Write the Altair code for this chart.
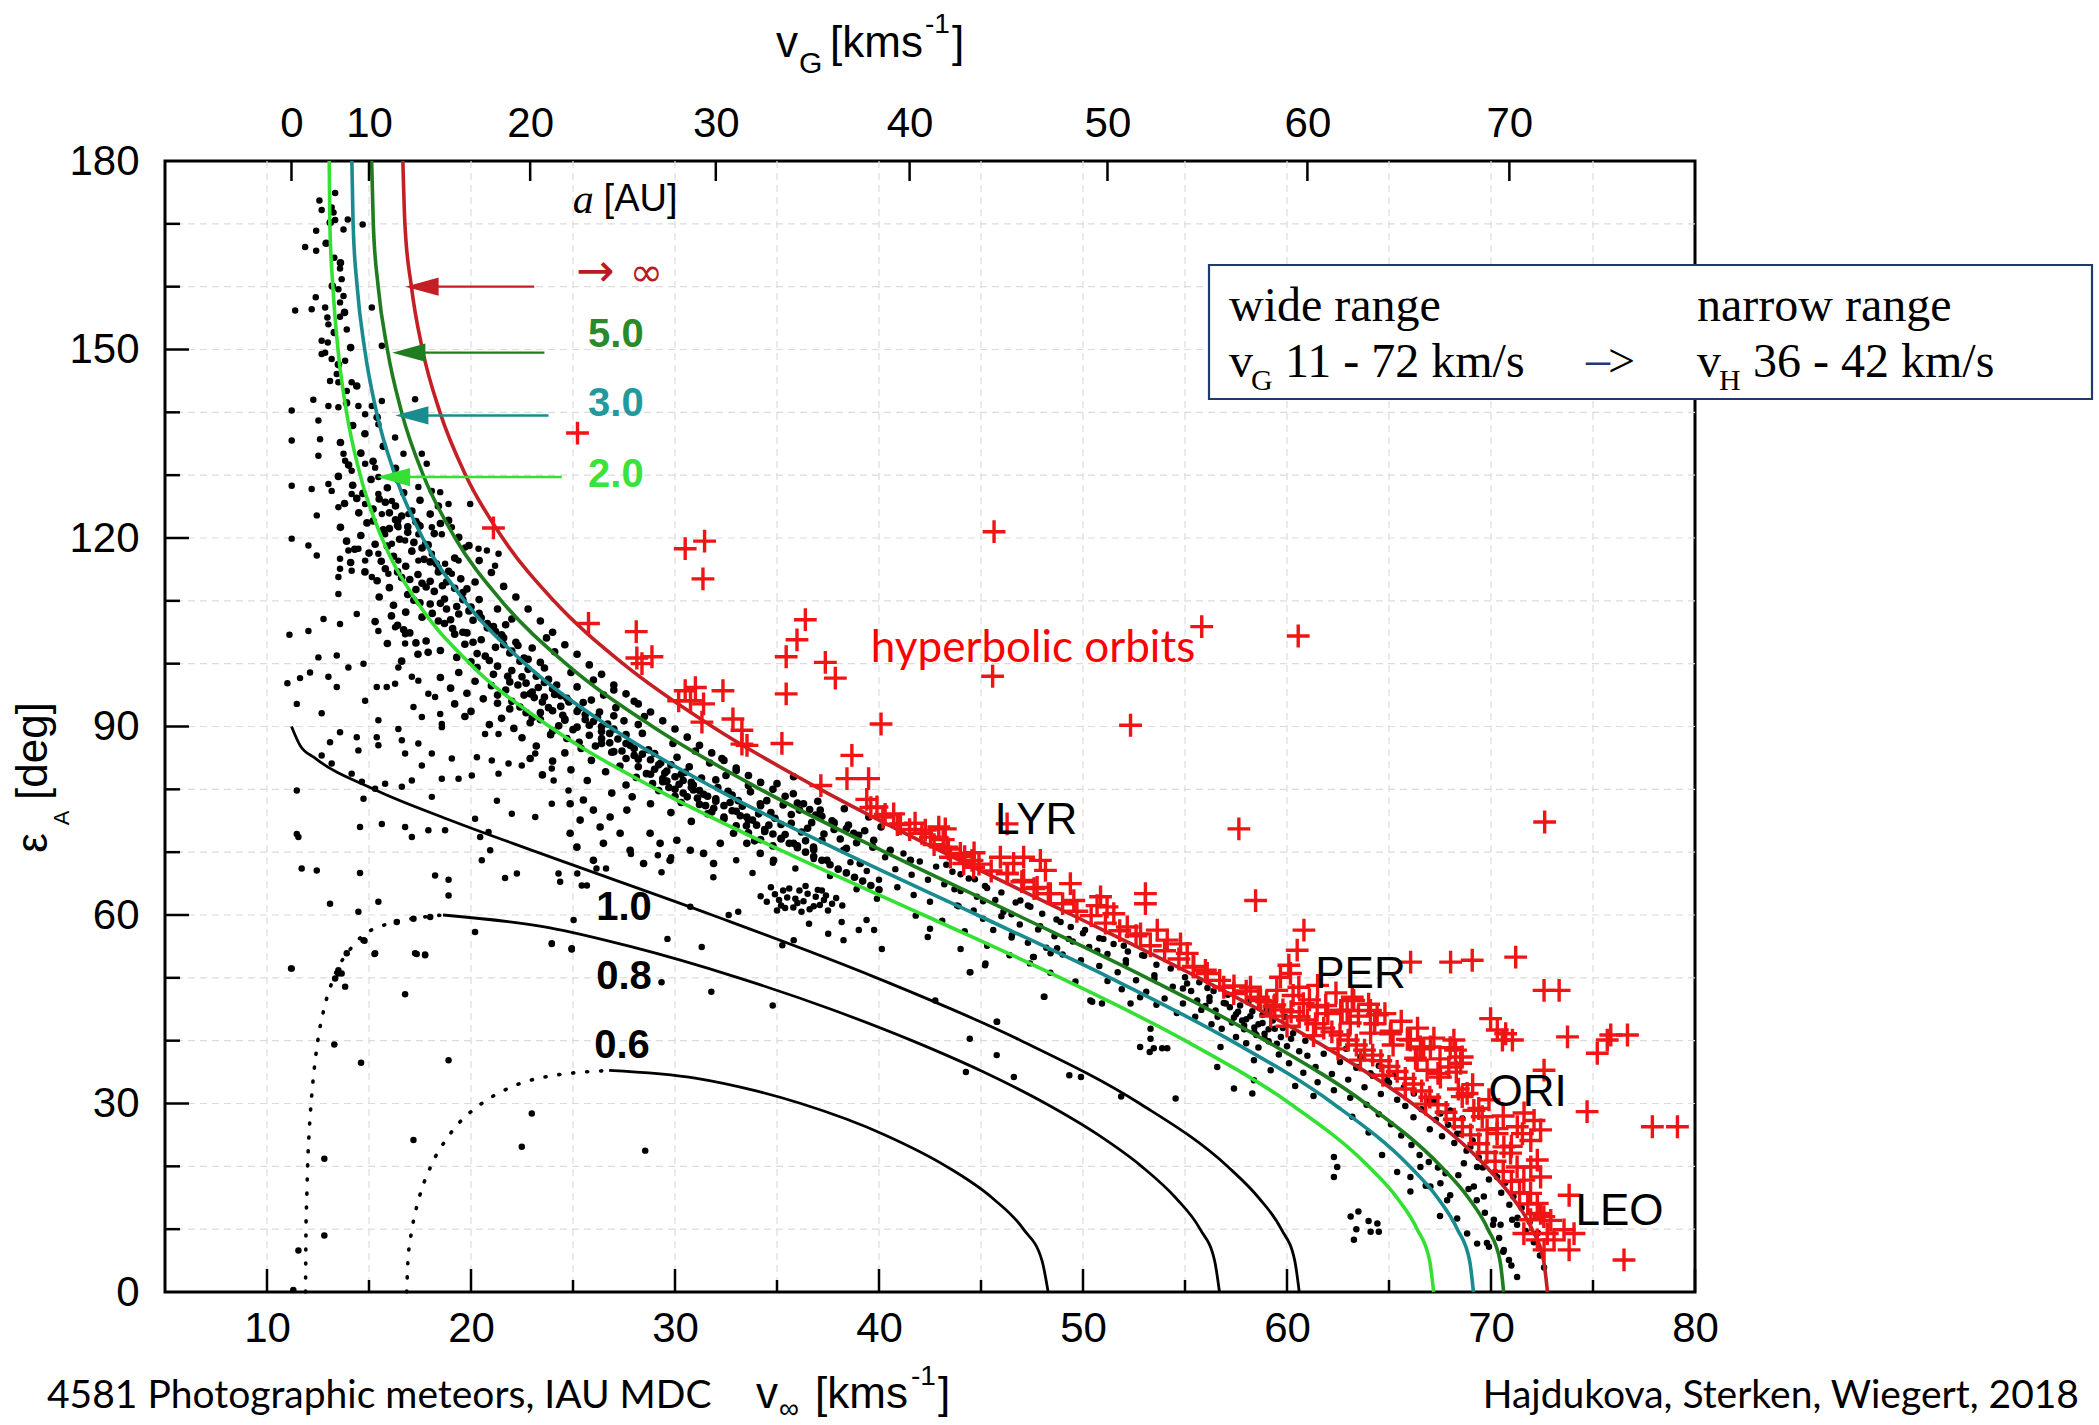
import altair as alt
import pandas as pd

W, H = 1530, 1131
XS = alt.Scale(domain=[5, 80], nice=False, zero=False)
YS = alt.Scale(domain=[0, 180], nice=False, zero=False)

# ---------------- axes ----------------
x_major = [10, 20, 30, 40, 50, 60, 70, 80]
x_minor = [15, 25, 35, 45, 55, 65, 75]
y_labels = [0, 30, 60, 90, 120, 150, 180]
y_major = [30, 60, 90, 120, 150]
y_minor = [10, 20, 40, 50, 70, 80, 100, 110, 130, 140, 160, 170]
grid_x = [10, 15, 20, 25, 30, 35, 40, 45, 50, 55, 60, 65, 70, 75]
grid_y = [10, 20, 30, 40, 50, 60, 70, 80, 90, 100, 110, 120, 130, 140, 150, 160, 170]
vg_labels = ['0', '10', '20', '30', '40', '50', '60', '70']
vg_at_vinf = [11.2, 15.0, 22.9, 32.0, 41.5, 51.2, 61.0, 70.9]

# ---------------- curves of constant a (v_inf vs eps) ----------------
eps_hi = [180, 170, 160, 150, 140, 130, 120, 110, 100, 90, 80, 70, 60, 50, 40, 30, 20, 15, 10, 5, 0]
v_a_inf = [16.66, 16.76, 17.08, 17.62, 18.48, 19.74, 21.55, 24.06, 27.45, 31.82, 37.13, 43.13, 49.47,
           55.68, 61.35, 66.14, 69.75, 71.06, 72.01, 72.58, 72.77]
v_a5 = [15.13, 15.21, 15.45, 15.90, 16.60, 17.66, 19.22, 21.49, 24.65, 28.90, 34.19, 40.29, 46.76,
        53.13, 58.95, 63.86, 67.54, 68.89, 69.85, 70.44, 70.62]
v_a3 = [14.16, 14.22, 14.42, 14.79, 15.37, 16.28, 17.63, 19.68, 22.65, 26.77, 32.05, 38.22, 44.82,
        51.33, 57.26, 62.26, 66.01, 67.38, 68.35, 68.95, 69.14]
v_a2 = [13.05, 13.08, 13.23, 13.48, 13.90, 14.57, 15.63, 17.32, 19.95, 23.85, 29.09, 35.39, 42.19,
        48.90, 55.01, 60.14, 63.99, 65.39, 66.38, 66.99, 67.19]
eps_a1 = [90, 87, 85, 80, 75, 70, 60, 50, 40, 30, 20, 15, 10, 5, 0]
v_a1 = [11.2, 11.62, 12.34, 15.24, 19.05, 23.24, 31.82, 39.88, 46.97, 52.78, 57.08, 58.61, 59.72, 60.38, 60.60]
eps_a08 = [60, 58, 55, 50, 45, 40, 35, 30, 25, 20, 15, 10, 5, 0]
v_a08_solid = [18.63, 23.81, 27.80, 33.12, 37.65, 41.62, 45.13, 48.17, 50.75, 52.87, 54.54, 55.74, 56.45, 56.69]
v_a08_dot = [18.63, 15.39, 14.19, 13.27, 12.79, 12.49, 12.30, 12.16, 12.06, 11.99, 11.95, 11.91, 11.90, 11.89]
eps_a06 = [35.26, 34, 32, 30, 25, 20, 15, 10, 5, 0]
v_a06_solid = [26.77, 31.06, 33.98, 36.17, 40.29, 43.30, 45.54, 47.08, 47.99, 48.29]
v_a06_dot = [26.77, 23.28, 21.56, 20.52, 18.94, 18.03, 17.46, 17.11, 16.91, 16.85]

# ---------------- meteors (v_inf, eps) ----------------
dots_upper = [(12.57,173.7),(13.34,174.9),(12.68,172.2),(13.17,172.6),(13.26,171.8),(13.96,170.7),(13.34,170.6),
 (14.69,169.9),(12.41,168.9),(13.75,169.1),(11.87,166.3),(12.41,165.7),(13.30,164.6),(13.58,162.9),(13.66,161.2),
 (13.50,159.6),(13.75,158.5),(13.58,157.5),(11.38,156.2),(12.19,156.4),(12.39,158.3),(12.85,156.7),(12.96,155.1),
 (13.01,154.0),(13.58,155.2),(13.91,153.2),(15.14,156.7),(12.68,151.4),(12.98,151.1),(12.68,149.3),(12.85,149.5),
 (13.17,148.5),(13.83,148.2),(13.42,146.1),(13.09,145.0),(13.50,144.8),(14.15,144.8),(13.91,143.4),(15.63,150.6),
 (17.26,142.1),(12.27,142.0),(11.21,140.3),(13.01,141.0),(13.50,140.8),(14.48,141.0),(14.81,139.7),(15.14,141.0),
 (15.63,141.8),(15.46,138.1),(16.28,136.0),(16.69,133.4),(17.59,133.4),(17.83,131.8),(11.21,135.5),(12.52,138.7),
 (12.60,135.7),(12.52,133.1),(13.75,133.4),(13.83,132.3),(14.15,130.7),(14.81,131.8),(15.30,131.2),(15.46,129.7),
 (16.44,129.1),(17.42,128.1),(18.08,127.5),(18.49,127.3),(18.90,125.4),(19.96,125.4),(11.21,128.3),(12.19,127.8),
 (12.44,123.6),(13.01,128.6),(13.17,127.5),(13.50,124.9),(14.15,127.0),(14.81,125.4),(15.46,127.0),(15.63,123.8),
 (16.12,125.9),(16.44,122.8),(16.93,123.8),(17.42,122.2),(18.08,121.7),(18.57,120.6),(19.06,121.7),(19.71,118.5),
 (20.37,118.3),(20.78,118.0),(21.35,117.5),(21.18,115.6),(11.21,119.9),(12.03,118.8),(12.44,117.2),(13.58,116.7),
 (13.99,118.0),(14.48,118.3),(14.81,116.4),(15.46,117.5),(15.79,120.6),(16.12,119.1),(16.44,121.7),(16.77,119.6),
 (17.10,118.0),(17.42,116.4),(17.75,119.1),(18.08,117.5),(18.41,115.3),(18.73,115.9),(19.06,114.3),(19.39,116.4),
 (17.42,120.6),(16.44,116.4),(15.95,114.3),(15.14,113.8),(14.15,114.8),(13.50,113.8)]

dots_left = [(13.58,115.1),(13.50,111.1),(12.77,107.1),(14.40,107.9),(13.58,106.3),(12.03,105.2),(12.52,101.0),
 (13.42,101.3),(11.62,97.7),(12.11,98.6),(13.01,97.9),(13.42,96.3),(11.46,93.6),(12.68,92.1),(13.99,99.4),(14.73,100.0),
 (14.81,94.1),(15.38,96.3),(15.46,91.0),(15.87,96.3),(16.28,96.8),(16.44,99.4),(17.10,97.9),(17.42,97.3),(17.91,95.2),
 (18.24,94.7),(17.18,93.1),(17.59,91.5),(18.49,92.0),(18.57,90.4),(16.77,103.2),(15.46,105.2),(16.28,105.8),(16.77,104.7),
 (13.58,89.1),(13.09,87.5),(14.40,88.3),(14.48,86.2),(15.38,88.3),(15.46,87.0),(16.44,89.6),(16.61,87.8),(16.77,85.7),
 (17.42,87.3),(17.59,83.8),(18.08,85.7),(18.57,89.9),(12.68,85.4),(13.17,84.1),(14.15,82.5),(14.65,81.2),(15.30,80.1),
 (15.79,80.9),(16.61,80.4),(17.10,81.4),(18.08,78.8),(18.57,81.7),(19.06,84.9),(19.39,81.7),(20.04,82.2),(20.29,85.1),
 (20.69,88.8),(21.35,88.8),(21.02,84.6),(21.35,82.5),(21.84,84.1),(22.49,83.8),(23.15,85.7),(23.96,83.3),(24.05,81.4),
 (24.78,79.8),(23.96,77.7),(23.15,75.6),(22.00,76.1),(21.27,78.2),(20.20,75.3),(20.86,73.2),(20.45,72.4),(20.53,68.7),
 (20.94,70.3),(11.46,79.8),(14.73,78.5),(14.56,74.0),(15.63,74.5),(16.77,74.0),(17.10,72.4),(17.91,73.5),(18.73,73.5),
 (11.46,72.9),(11.54,72.4),(11.70,67.4),(12.44,67.1),(14.56,66.7),(18.24,66.3),(18.90,65.6),(18.90,63.1),(21.67,65.9),
 (22.25,66.6),(24.29,66.6),(24.37,65.3),(25.43,64.7),(13.09,61.8),(15.46,62.1),(14.48,60.5),(14.73,56.0),(15.30,53.9),
 (17.26,53.9),(17.75,53.6),(20.20,57.3),(23.96,55.5),(24.94,54.7),(11.21,51.5),(13.91,53.9),(13.50,51.2),(16.36,58.9),
 (17.18,59.4),(18.00,59.7),(11.0,96.9),(11.1,104.6)]

dots_low = [(11.18,51.5),(13.50,50.7),(13.66,50.7),(13.34,49.9),(13.83,48.6),(14.78,55.9),(15.27,53.8),(17.34,53.8),
 (17.75,53.7),(16.77,47.4),(13.30,39.4),(14.61,36.5),(18.90,36.9),(17.18,24.2),(12.81,21.2),(22.98,28.4),(22.49,23.1),
 (28.54,22.5),(12.81,9.0),(11.54,6.6),(11.29,0.3),(23.96,55.4),(24.94,54.5)]

dots_mid = [(25.03,59.2),(25.21,66.6),(24.93,54.6),(25.68,64.7),(26.15,67.4),(27.84,69.7),(26.62,67.4),(29.16,69.5),
 (29.34,66.8),(29.81,69.2),(29.63,56.2),(29.34,49.3),(31.31,54.9),(31.78,47.8),(31.88,66.0),(32.63,60.0),(33.10,60.5),
 (33.00,68.7),(34.79,45.6),(35.26,55.2),(35.82,56.0),(36.57,58.6),(37.51,57.0),(38.26,56.0),(38.17,58.9),(39.01,57.6),
 (39.39,59.2),(39.76,57.6),(40.14,54.6),(42.39,56.5),(42.76,46.4),(44.45,50.9),(45.20,52.0),(44.45,40.3),(45.77,43.0),
 (45.77,37.7),(44.26,35.0),(46.61,34.2),(49.33,34.5),(49.90,34.2),(51.87,31.1),(48.11,47.0),(47.55,53.3),(50.36,46.4),
 (50.93,45.9),(52.33,45.9),(52.80,39.0),(53.27,38.2),(30.75,61.3),(50.45,46.2),(53.31,40.3),(53.31,41.9),(53.47,38.8),
 (53.88,38.8),(54.13,38.8),(54.54,30.8),(57.40,32.4),(58.30,31.6),(58.38,33.7),(58.38,36.9),(56.58,35.8),(56.74,39.0),
 (49.63,49.4),(46.52,56.8),(48.41,53.9),(48.73,54.7),(47.42,61.3),(46.93,62.3),(44.64,60.7),(43.83,61.5),(44.48,50.9),
 (45.22,52.3),(48.08,47.0),(47.59,53.3),(45.79,43.0)]

dots_right = [(62.3,21.5),(62.46,19.9),(62.3,18.3),(64.66,21.8),(65.40,19.1),(66.05,16.0),(66.54,19.9),(66.95,20.7),
 (67.85,14.6),(68.34,11.7),(68.83,9.3),(69.32,7.7),(69.90,7.2),(70.63,6.7),(70.88,5.1),(71.28,2.4),(70.14,11.5),
 (70.47,10.7),(71.04,11.5),(71.28,10.7),(69.65,15.2),(69.16,16.8),(70.30,18.3),(66.05,18.3),(67.03,16.8),(67.52,17.3),
 (67.77,18.9),(68.67,20.5),(69.32,19.9),(68.99,23.1),(68.34,25.2),(67.52,28.4),(66.87,30.5),(66.22,31.6),(65.73,32.6),
 (64.91,33.7),(64.09,34.8),(63.44,35.8),(63.5,12.8),(64.0,11.3),(64.5,9.6),(63.4,10.0),(63.12,12.0),(64.10,9.6),
 (64.43,10.9),(63.28,8.3)]

dots_blob = [(34.5,62.1),(34.9,63.3),(35.2,61.5),(35.5,62.8),(35.8,61.2),(36.1,63.9),(36.3,62.2),(36.6,60.9),(36.9,62.9),
 (37.1,61.6),(37.4,63.1),(37.7,61.8),(35.0,60.7),(35.6,64.2),(36.4,64.6),(37.0,64.0),(34.7,64.4),(35.3,63.9),(36.0,61.9),
 (36.8,61.4),(37.3,62.4),(35.9,62.6),(35.4,61.1),(36.5,63.4),(37.9,62.7),(38.2,61.5),(34.2,63.0),(35.1,62.4),(36.2,60.5),
 (37.5,60.7)]

band_top = [(13.9,119.5),(14.3,118.2),(14.6,120.4),(15.0,117.6),(15.3,119.0),(15.6,116.3),(15.9,118.7),(16.2,117.1),
 (16.5,119.8),(16.8,115.5),(17.1,117.9),(17.4,114.2),(17.7,116.6),(18.0,113.1),(18.3,115.9),(18.6,112.4),(18.9,114.7),
 (19.2,116.8),(19.5,113.5),(19.8,111.9),(14.8,114.6),(15.4,113.2),(16.0,112.1),(16.6,113.7),(17.3,111.8),(14.1,116.1),
 (15.7,121.3),(16.9,120.9),(17.9,118.9),(20.2,113.0),(13.6,121.7),(14.9,122.4),(16.3,122.9),(15.2,124.6),(14.4,126.3),
 (15.8,125.7),(17.5,121.9),(18.2,120.7),(14.2,128.4),(14.7,127.1),(15.1,129.3),(15.5,126.2),(15.9,128.0),(16.3,125.1),
 (16.7,127.2),(17.1,124.3),(17.5,126.0),(14.5,124.0),(15.2,122.7),(16.0,121.5),(16.6,123.5),(17.3,122.6),(18.0,123.8),
 (18.5,122.3),(13.8,125.5),(13.5,129.8),(14.0,131.6),(14.6,133.5),(15.2,132.2),(15.7,134.6),(16.3,131.1),(16.8,130.1),
 (13.6,135.2),(14.2,137.9),(14.8,136.6),(15.4,139.2),(13.9,141.5),(14.4,144.2),(13.5,147.6),(14.1,150.3),(13.3,152.7),
 (13.8,155.9),(13.2,160.1),(13.6,163.8),(12.9,166.9),(13.1,170.2),(15.5,110.6),(16.2,109.3),(16.8,108.2),(17.2,110.1),
 (17.6,107.4),(18.0,109.5),(18.4,106.8),(18.8,108.7),(19.1,105.6),(19.4,107.9),(19.8,104.9),(20.1,106.9),(20.5,103.8),
 (20.8,105.7),(21.2,102.6),(21.5,104.6),(21.9,101.7),(22.2,103.4),(22.6,100.9),(23.0,102.5),(23.4,100.2),(17.0,104.9),
 (17.8,103.6),(18.5,102.1),(19.3,101.0),(20.0,100.3),(16.4,106.1),(15.9,103.2),(17.4,101.5),(20.4,110.2),(21.3,108.7),
 (22.0,107.1),(19.6,111.3),(21.7,106.2),(23.7,104.1),(24.1,101.9),(16.6,100.4),(15.3,106.7),(18.2,111.5),(15.8,115.1),
 (16.4,114.6),(17.0,113.4),(17.6,112.8),(18.7,110.3),(19.3,109.1),(19.9,108.4),(20.5,107.3),(21.1,105.9),(21.6,104.1),
 (22.3,102.9),(16.9,111.0),(17.5,109.7),(18.1,108.0),(18.7,106.4),(19.2,104.7),(19.7,103.1),(20.3,101.6),(20.9,100.5),
 (16.1,107.6),(16.7,105.4),(17.3,103.3),(17.9,101.8)]

band_core = [(16.0,124.0),(16.4,122.0),(16.9,121.8),(17.2,119.3),(17.6,118.4),(18.0,116.2),(18.4,114.6),(18.8,113.0),
 (19.2,112.0),(19.6,110.2),(20.0,109.0),(20.4,108.0),(20.8,106.4),(21.2,105.1),(21.6,103.0),(22.0,102.0),(22.4,100.4),
 (22.8,99.1),(23.2,98.0),(23.6,97.0),(24.0,96.0),(24.4,94.9),(24.8,94.0),(25.2,92.4),(25.6,91.9),(26.0,90.8),(26.4,90.0),
 (26.8,88.9),(27.2,88.0),(27.6,87.3),(28.0,86.5),(28.4,85.6),(28.8,84.7),(29.2,83.9),(29.6,82.9),(30.0,82.0),(30.4,81.4),
 (30.8,80.3),(31.2,79.8),(31.6,78.9),(32.0,78.1),(32.4,77.4),(32.8,76.6),(33.2,75.8),(33.6,75.1),(34.0,74.3),(34.4,73.6),
 (34.8,72.9),(35.2,72.2),(35.6,71.4),(36.0,70.7),(36.4,70.0),(36.8,69.3),(37.2,68.7),(37.6,68.0),(38.0,67.3),(38.4,66.7),
 (38.8,66.0),(39.2,65.4),(39.6,64.7),(40.0,64.0),(17.8,112.2),(18.5,109.6),(19.0,107.0),(19.6,105.0),(20.1,103.4),
 (20.7,101.2),(21.3,99.6),(21.8,98.0),(22.3,96.6),(22.9,95.2),(23.5,93.9),(24.0,92.5),(24.6,91.2),(25.2,89.9),(25.8,88.6),
 (26.4,87.3),(27.0,86.0),(27.6,84.9),(28.2,83.6),(28.8,82.4),(29.4,81.2),(30.0,80.0),(30.6,78.8),(31.2,77.6),(31.8,76.4),
 (32.4,75.3),(33.0,74.2),(33.6,73.1),(34.2,72.0),(34.8,71.0),(18.4,125.1),(18.9,122.8),(19.4,120.1),(19.9,118.8),
 (20.4,116.4),(21.0,114.5),(21.6,112.3),(22.2,110.6),(22.8,108.7),(23.4,106.8),(24.0,105.0),(24.6,103.0),(25.2,101.5),
 (25.8,99.8),(26.4,98.3),(27.0,96.6),(27.6,95.2),(28.2,93.6),(28.8,92.3),(29.4,90.9),(30.0,89.6),(30.6,88.3),(31.2,87.0),
 (31.8,85.8),(32.4,84.6),(33.0,83.4),(33.6,82.2),(34.2,81.1),(34.8,80.0),(35.4,78.9),(36.0,77.8),(36.6,76.8),(37.2,75.7),
 (37.8,74.7),(38.4,73.7),(39.0,72.7)]

band_mid = [(18.5,97.8),(19.0,96.1),(19.4,98.6),(19.8,95.3),(20.2,97.2),(20.6,94.4),(21.0,96.5),(21.3,93.7),(21.7,95.8),
 (22.0,98.9),(22.4,93.1),(22.7,96.9),(23.1,94.6),(23.4,92.2),(23.8,97.5),(24.1,95.1),(24.5,91.8),(24.8,93.9),(25.2,96.3),
 (25.6,91.1),(25.9,94.2),(26.3,92.3),(26.7,90.4),(27.1,93.0),(27.5,90.9),(20.0,92.4),(21.5,91.3),(22.9,90.6),(24.3,90.1),
 (19.2,93.6),(22.1,89.7),(23.6,99.3),(24.9,98.6),(26.0,97.4),(27.0,95.8),(28.0,94.0),(28.5,91.6),(21.9,92.8),(20.9,90.3),
 (19.7,91.6),(22.6,95.0),(23.3,96.2),(24.4,93.2),(25.5,93.8),(26.5,95.0),(23.0,91.4),(25.0,89.5),(21.1,98.3),(20.3,99.4),
 (22.8,100.7),(21.9,97.1),(22.5,97.9),(23.0,95.5),(23.6,94.7),(24.2,96.6),(24.7,94.5),(25.3,92.9),(25.8,90.2),(26.4,89.2),
 (27.0,91.7),(27.6,88.7),(28.2,90.3),(21.3,95.0),(22.0,94.0),(22.7,92.2),(23.4,91.1),(24.0,89.3),(24.7,88.1),(25.4,86.5),
 (26.1,86.9),(26.8,87.4),(27.4,86.1),(28.0,85.4),(28.7,86.3),(29.3,84.2),(30.1,85.1),(30.7,83.6),(24.6,91.0),(23.8,93.0),
 (26.2,91.5),(22.5,88.2),(23.2,86.9),(23.9,88.7),(24.6,85.8),(25.3,87.5),(25.9,84.6),(26.4,88.1),(26.9,85.9),(27.3,83.7),
 (27.8,87.0),(28.2,84.8),(28.6,82.5),(29.0,85.7),(29.4,81.7),(29.8,83.9),(30.2,80.8),(30.5,82.7),(30.9,79.9),(31.3,81.8),
 (31.7,84.2),(32.1,80.3),(32.5,82.2),(29.2,79.8),(29.7,80.3),(30.0,78.9),(30.4,79.4),(30.8,81.1),(31.1,78.6),(29.5,82.6),
 (28.9,80.9),(28.1,81.9),(27.6,80.7),(26.6,82.8),(25.7,81.4),(24.9,83.1),(24.0,84.5),(23.5,82.3),(22.9,84.9),(27.0,89.6),
 (28.4,88.9),(29.9,87.3),(31.0,86.1),(32.3,84.9),(33.0,83.0),(30.3,77.9),(31.5,77.4),(32.0,78.5),(29.0,83.2),(29.6,81.3),
 (30.3,82.4),(30.9,80.7),(31.4,79.2),(32.0,81.5),(32.6,79.7),(33.1,78.2),(33.6,80.6),(34.2,77.4),(34.7,76.3),(35.2,74.4),
 (35.7,76.0),(36.2,73.2),(36.7,74.7),(37.2,71.9),(37.8,73.6),(38.4,70.6),(33.0,76.5),(33.8,75.1),(34.6,74.3),(35.4,72.8),
 (36.4,71.8),(31.9,77.0),(32.7,77.9),(32.8,79.1),(33.3,77.3),(33.7,79.6),(34.1,76.1),(34.5,78.2),(34.9,75.4),(35.3,77.5),
 (35.7,74.6),(36.1,76.7),(36.5,73.8),(36.9,75.9),(37.3,72.9),(37.7,75.0),(38.1,72.1),(38.5,74.3),(38.9,71.5),(39.3,73.4),
 (39.7,70.8),(33.5,74.2),(34.4,73.3),(35.2,72.1),(36.0,71.0),(36.8,70.4),(32.4,75.6),(31.6,76.1),(30.8,74.9),(29.8,76.3),
 (28.8,77.7),(27.9,78.8),(26.9,79.4),(33.9,71.8),(35.8,79.3),(37.0,78.1),(38.3,76.9),(39.5,75.6),(40.1,74.0),
 (24.86,77.7),(25.51,78.3),(26.00,76.7),(26.82,75.6),(27.64,76.7),(25.35,75.1),(26.33,74.0),(27.31,73.0),(25.19,70.8),
 (26.49,71.4),(27.80,70.3),(28.78,73.0),(29.27,71.4),(30.09,71.9),(30.75,70.3),(31.40,69.8),(31.89,68.2),(29.76,68.7),
 (28.46,68.2),(26.00,68.7),(24.86,73.0),(32.22,71.4),(32.87,73.0),(33.52,71.4),(34.18,69.8),(34.83,68.7),(35.81,71.4),
 (36.79,70.8),(37.45,68.7),(38.27,70.3),(39.08,68.2),(33.52,75.6),(34.18,77.7),(35.00,80.9),(35.81,82.0),(36.30,77.7),
 (37.12,76.7),(37.78,74.5),(38.76,73.0),(39.74,71.9),(40.55,70.3),(41.54,68.7)]

band_low = [(40.3,69.2),(40.8,67.3),(41.2,69.8),(41.6,66.4),(42.0,68.5),(42.4,65.6),(42.8,67.7),(43.2,64.9),(43.6,66.9),
 (44.0,63.8),(44.4,65.8),(44.8,62.9),(38.6,68.4),(39.4,67.0),(40.0,65.6),(40.9,64.4),(41.7,63.2),(42.5,62.1),(37.6,66.2),
 (38.9,64.1),(39.9,62.6),(36.8,68.9),(35.9,67.4),(34.8,68.3),(33.8,66.7),(37.2,63.9),(43.9,61.4),(45.2,64.6),(45.7,62.4),
 (46.1,60.5),(45.1,59.4),(45.6,57.6),(46.0,59.8),(46.5,56.4),(46.9,58.5),(47.3,55.6),(47.8,57.7),(48.2,54.8),(48.6,56.6),
 (49.0,53.7),(49.5,55.8),(49.9,52.8),(50.3,54.9),(50.8,51.9),(51.2,53.8),(51.7,50.9),(52.1,52.8),(44.2,57.4),(45.3,55.1),
 (46.4,53.6),(47.4,52.3),(48.4,50.8),(43.1,59.1),(42.5,57.8),(44.0,54.6),(48.9,58.9),(50.0,57.1),(51.0,56.2),(52.0,55.1),
 (53.0,53.5),(41.8,59.9),(43.3,68.0),(44.0,66.5),(44.7,65.7),(45.3,64.3),(46.0,63.6),(46.7,62.0),(47.3,61.5),(48.0,60.2),
 (48.7,59.3),(49.4,58.1),(50.1,57.6),(50.8,56.3),(51.5,55.4),(52.2,54.2),(52.9,53.6),(53.6,52.1),(54.3,51.5),(55.0,50.1),
 (55.7,49.3),(56.4,47.9),(43.7,64.1),(45.1,62.2),(46.5,60.1),(47.9,58.2),(49.3,56.2),(50.7,54.3),(52.1,52.3),(53.5,50.4),
 (54.9,48.3),(56.2,46.3),(52.6,49.6),(53.1,47.8),(53.5,49.9),(54.0,46.7),(54.4,48.6),(54.9,45.9),(55.3,47.9),(55.8,44.9),
 (56.2,46.9),(56.6,43.8),(57.0,45.9),(57.3,42.9),(57.6,44.6),(57.9,41.8),(58.2,43.9),(58.5,40.9),(58.8,42.8),(59.1,39.9),
 (59.4,41.9),(59.7,40.6),(60.0,39.1),(60.3,41.2),(60.6,38.3),(57.5,40.6),(58.0,39.6),(58.4,42.1),(58.9,41.1),(59.3,43.4),
 (57.8,43.2),(56.8,41.9),(56.3,42.6),(55.5,43.8),(54.6,44.4),(53.6,45.7),(52.8,46.9),(51.9,48.2),(51.2,49.5),(55.1,49.1),
 (56.1,48.4),(57.1,47.3),(58.1,46.1),(59.0,44.9),(59.9,43.8),(58.6,38.9),(59.6,37.8),(60.9,40.0),(56.9,46.0),(57.2,45.3),
 (57.5,44.2),(57.7,45.6),(58.0,43.4),(58.3,44.7),(58.6,42.6),(58.8,44.1),(59.1,41.8),(59.3,43.2),(57.4,43.7),(57.9,42.4),
 (58.4,41.4),(58.9,40.4),(59.5,39.5),(56.5,44.8),(56.0,45.5),(55.6,46.4),(59.8,42.0),(60.2,40.3)]

band_end = [(61.0,37.6),(61.4,35.8),(61.8,37.9),(62.2,34.7),(62.6,36.6),(63.0,33.8),(63.4,35.7),(63.8,32.6),(64.2,34.4),
 (64.6,31.5),(65.0,33.3),(65.4,30.6),(60.1,36.4),(60.8,34.9),(61.5,33.4),(62.3,32.1),(63.1,30.9),(63.9,29.8),(59.2,35.3),
 (60.4,32.8),(61.3,31.2),(62.9,38.7),(63.6,37.4),(64.5,36.0),(65.3,34.7),(65.8,29.6),(66.2,27.8),(66.6,29.1),(67.0,25.9),
 (67.3,27.4),(67.6,24.8),(67.9,26.6),(68.2,23.7),(68.5,25.2),(68.8,22.5),(69.1,24.1),(69.4,21.4),(64.5,28.3),(65.1,26.7),
 (65.6,24.9),(66.1,23.4),(66.5,21.8),(63.2,27.9),(64.0,25.4),(67.2,30.4),(68.0,28.9),(68.6,27.6),(69.6,19.8),(69.9,17.9),
 (70.2,19.1),(70.5,15.8),(70.7,17.4),(70.9,13.9),(71.1,15.2),(71.3,11.8),(71.5,13.4),(71.7,9.7),(71.9,11.2),(72.1,7.9),
 (72.3,9.4),(72.4,5.8),(68.4,18.6),(68.9,16.4),(69.3,14.6),(69.7,12.6),(70.1,10.7),(70.4,8.6),(70.6,6.4),(67.4,19.8),
 (68.0,15.4),(66.8,16.9),(67.5,12.1),(72.6,3.9),(71.0,4.2),(69.8,7.8)]

# hyperbolic orbits (red crosses)
cross_far = [(25.22,136.7),(21.1,121.6),(45.64,121.0),(30.50,118.3),(31.45,119.5),(31.37,113.5),(25.76,106.4),
 (28.10,105.1),(28.13,100.9),(28.87,101.1),(28.38,100.0),(36.39,107.0),(35.98,103.8),(35.45,101.1),(37.37,100.2),
 (37.86,97.7),(35.45,95.2),(30.50,95.7),(31.0,96.2),(31.40,93.6),(30.18,94.1),(30.76,94.1),(32.35,95.7),(31.32,90.7),
 (32.84,91.2),(33.28,89.4),(33.53,87.0),(33.28,87.2),(35.24,87.3),(40.10,90.4),(38.67,85.4),(38.43,81.7),(39.49,81.7),
 (37.15,80.6),(39.90,77.2),(55.82,105.9),(60.55,104.4),(52.33,90.2),(45.57,98.0),(57.64,73.7),(58.46,62.3),
 (60.83,57.6),(72.63,74.8)]

cross_lyr = [(41.05,74.5),(40.72,76.1),(42.27,73.5),(42.93,74.0),(42.52,72.4),(43.33,70.8),(43.99,69.8),(44.56,68.7),
 (43.25,73.7),(46.28,74.5),(43.50,69.2),(44.15,68.2),(44.64,67.6),(45.95,69.2),(46.60,68.2),(47.09,69.2),(47.91,68.7),
 (48.16,67.1),(46.28,66.6),(47.09,65.5),(47.75,64.4),(48.40,63.4),(49.38,65.0),(49.55,62.3),(50.86,62.9),(51.18,61.3),
 (51.51,60.2),(50.69,61.5),(53.06,63.4),(53.06,61.8),(52.17,58.1),(52.82,57.0),(53.64,57.6),(54.13,56.0),(54.78,55.4),
 (55.11,53.9),(55.43,51.7),(56.09,50.7),(56.90,48.5),(57.39,47.5),(58.21,48.5),(58.70,46.4),(59.36,45.4),(61.48,45.4),
 (62.63,44.8),(60.50,54.4),(60.09,52.0),(59.68,50.1),(60.17,50.7),(60.58,48.5),(39.6,77.1),(40.3,76.0),(40.9,74.4),
 (41.5,73.6),(42.1,73.0),(42.7,71.2),(43.4,70.5),(44.2,69.3),(44.9,68.1),(45.5,67.0),(46.3,66.6),(47.0,65.3),(47.6,64.2),
 (48.3,63.4),(49.0,61.8),(49.7,60.6),(50.4,59.9),(51.1,58.7),(51.8,57.5),(52.6,56.7),(53.3,55.1),(54.0,54.3),(54.7,53.0),
 (55.4,51.8),(56.0,51.2),(56.7,49.6),(57.4,48.7),(58.0,47.9),(39.40,78.4),(40.19,75.6),(41.77,74.6),(43.15,72.0),
 (44.66,69.9)]

cross_per = [(66.06,52.5),(68.02,52.5),(69.08,52.8),(71.21,53.3),(72.60,48.0),(73.34,48.0),(69.98,43.5),(70.31,41.7),
 (70.72,41.1),(71.05,40.1),(70.56,40.1),(73.75,40.6),(75.21,38.0),(75.87,40.9),(76.69,40.9),(75.70,40.1),(72.60,35.3),
 (74.71,28.7),(77.91,26.3),(79.14,26.3),(71.62,28.5),(72.11,27.3),(72.43,25.8),(71.54,25.2),(71.95,24.1),(71.29,26.3),
 (71.95,19.9),(72.43,18.3),(72.27,21.0),(73.83,15.4),(72.43,12.5),(72.93,11.4),(73.58,9.9),(74.07,9.3),(72.76,9.3),
 (72.27,8.3),(73.09,8.3),(72.60,6.7),(73.83,6.7),(76.52,5.1),(58.6,46.9),(59.0,46.2),(59.4,45.7),(59.8,44.9),(60.2,44.6),
 (60.6,43.8),(61.0,43.3),(61.4,42.7),(61.8,42.0),(62.2,41.4),(62.6,40.9),(63.0,40.1),(63.4,39.3),(63.8,38.5),(64.2,37.7),
 (64.6,36.8),(65.0,35.9),(65.4,35.1),(65.8,34.0),(66.2,33.1),(66.6,32.0),(67.0,31.0),(67.4,29.8),(67.8,28.6),(68.2,27.5),
 (68.6,26.3),(69.0,25.0),(69.4,23.6),(69.8,22.2),(70.2,20.8),(70.6,19.2),(71.0,17.6),(71.4,15.8),(71.8,14.0),(59.5,48.0),
 (60.3,47.2),(61.1,46.5),(61.9,45.6),(62.7,44.8),(63.5,43.9),(64.3,42.7),(65.1,41.5),(65.9,40.2),(66.7,38.7),(67.5,37.1),
 (68.3,35.0),(69.1,33.0),(69.9,30.6),(70.6,28.0),(61.5,48.8),(62.4,47.6),(63.2,46.9),(64.0,45.8),(64.8,44.3),(65.6,43.1),
 (66.4,42.0),(67.2,40.4),(68.0,38.9),(60.8,45.9),(62.0,44.3),(63.1,42.8),(64.1,41.2),(65.2,39.3),(66.3,37.2),(67.4,34.8),
 (68.4,32.3),(69.4,29.2),(70.3,26.0),(71.0,23.2),(61.3,40.8),(62.5,38.7),(63.6,36.9),(64.7,34.5),(65.8,32.3),(66.8,29.9),
 (60.0,42.3),(59.2,43.9),(64.09,44.8),(64.42,44.1),(65.07,41.1),(66.05,40.1),(66.54,39.0),(66.38,36.9),(67.03,39.0),
 (66.87,35.3),(67.52,34.2),(68.18,40.1),(68.26,38.5),(68.59,37.4),(68.51,36.4),(67.93,35.8),(68.83,31.6),(68.59,31.1),
 (69.16,28.9),(69.57,27.9),(69.81,25.8),(70.30,25.2),(70.63,23.1),(70.96,22.1),(71.28,19.9),(71.61,17.8),(71.94,15.7),
 (72.27,14.1),(72.59,12.0),(71.94,11.5),(71.61,9.3),(62.95,44.8),(63.27,46.4)]

# arrows pointing to the curves
arrow_eps = [160, 149.5, 139.5, 129.7]
arrow_head = [17.6, 16.95, 17.1, 16.2]
arrow_tail = [23.1, 23.6, 23.8, 24.45]
arrow_line_start = [18.2, 17.6, 17.7, 16.9]

C_RED, C_DG, C_TEAL, C_LG = '#c41f24', '#1f7d1f', '#1a8b8e', '#35e035'
arrow_col = [C_RED, C_DG, C_TEAL, C_LG]

CROSS = 'M-1,0L1,0M0,-1L0,1'
HEAD = 'M-1,0L1,-0.55L1,0.55Z'
SANS = 'Liberation Sans'


def pts(p):
    return pd.DataFrame(p, columns=['v', 'e'])


def enc_xy():
    return dict(x=alt.X('v:Q', scale=XS, axis=None), y=alt.Y('e:Q', scale=YS, axis=None))


def curve(vs, es, color, width=3.0, dash=None):
    kw = dict(color=color, strokeWidth=width, interpolate='monotone')
    if dash:
        kw['strokeDash'] = dash
        kw['strokeCap'] = 'round'
    return alt.Chart(pd.DataFrame({'v': vs, 'e': es})).mark_line(**kw).encode(**enc_xy())


def dtext(v, e, t, **kw):
    return alt.Chart(pd.DataFrame({'v': [v], 'e': [e], 't': [t]})).mark_text(**kw).encode(
        x=alt.X('v:Q', scale=XS, axis=None), y=alt.Y('e:Q', scale=YS, axis=None), text='t:N')


def ptext(t, px, py, **kw):
    return alt.Chart(pd.DataFrame({'t': [t]})).mark_text(**kw).encode(
        x=alt.value(px), y=alt.value(py), text='t:N')


bottom_axis = alt.Axis(values=x_major, ticks=False, domain=False, grid=False, title=None,
                       labelFont=SANS, labelFontSize=42, labelColor='black', labelPadding=16, labelFlush=False)
left_axis = alt.Axis(values=y_labels, ticks=False, domain=False, grid=False, title=None,
                     labelFont=SANS, labelFontSize=42, labelColor='black', labelPadding=26, labelFlush=False)
lab_list = "['" + "','".join(vg_labels) + "']"
pos_list = "[" + ",".join(str(v) for v in vg_at_vinf) + "]"
top_axis = alt.Axis(orient='top', values=vg_at_vinf, ticks=False, domain=False, grid=False, title=None,
                    labelFont=SANS, labelFontSize=42, labelColor='black', labelPadding=16, labelFlush=False,
                    labelExpr=lab_list + "[indexof(" + pos_list + ", datum.value)]")

layers = []
GRID = dict(color='#dcdcdc', strokeDash=[7, 5], strokeWidth=1.2)
layers.append(alt.Chart(pd.DataFrame({'v': grid_x})).mark_rule(**GRID).encode(
    x=alt.X('v:Q', scale=XS, axis=bottom_axis)))
layers.append(alt.Chart(pd.DataFrame({'e': grid_y})).mark_rule(**GRID).encode(
    y=alt.Y('e:Q', scale=YS, axis=left_axis)))

# meteors
for group in [dots_upper, dots_left, dots_low, dots_mid, dots_right, dots_blob, band_low, band_end]:
    layers.append(alt.Chart(pts(group)).mark_circle(size=42, color='black', opacity=1).encode(**enc_xy()))
for group in [band_top, band_core, band_mid]:
    layers.append(alt.Chart(pts(group)).mark_circle(size=58, color='black', opacity=1).encode(**enc_xy()))

# black curves (a < 2)
layers.append(curve(v_a1, eps_a1, 'black', 2.8))
layers.append(curve(v_a08_solid, eps_a08, 'black', 2.8))
layers.append(curve(v_a08_dot, eps_a08, 'black', 3.6, dash=[1, 13]))
layers.append(curve(v_a06_solid, eps_a06, 'black', 2.8))
layers.append(curve(v_a06_dot, eps_a06, 'black', 3.6, dash=[1, 13]))

# coloured curves
layers.append(curve(v_a2, eps_hi, C_LG, 3.6))
layers.append(curve(v_a3, eps_hi, C_TEAL, 3.6))
layers.append(curve(v_a5, eps_hi, C_DG, 3.6))
layers.append(curve(v_a_inf, eps_hi, C_RED, 3.6))

# crosses
for group in [cross_far, cross_lyr, cross_per]:
    layers.append(alt.Chart(pts(group)).mark_point(shape=CROSS, size=520, filled=False, strokeWidth=3.4,
                                                   color='#f01414', opacity=1).encode(**enc_xy()))

# arrows
adf = pd.DataFrame({'e': arrow_eps, 'v1': arrow_line_start, 'v2': arrow_tail, 'vh': arrow_head, 'c': arrow_col})
layers.append(alt.Chart(adf).mark_rule(strokeWidth=2.4).encode(
    x=alt.X('v1:Q', scale=XS, axis=None), x2='v2:Q', y=alt.Y('e:Q', scale=YS, axis=None),
    color=alt.Color('c:N', scale=None)))
layers.append(alt.Chart(adf).mark_point(shape=HEAD, size=1100, filled=True, opacity=1, strokeWidth=0).encode(
    x=alt.X('vh:Q', scale=XS, axis=None), y=alt.Y('e:Q', scale=YS, axis=None),
    fill=alt.Color('c:N', scale=None)))

# ticks (inward)
TICK = dict(color='black', strokeWidth=2.5)
layers.append(alt.Chart(pd.DataFrame({'v': x_major})).mark_rule(**TICK).encode(
    x=alt.X('v:Q', scale=XS, axis=None), y=alt.value(H), y2=alt.value(H - 23)))
layers.append(alt.Chart(pd.DataFrame({'v': x_minor})).mark_rule(**TICK).encode(
    x=alt.X('v:Q', scale=XS, axis=None), y=alt.value(H), y2=alt.value(H - 12)))
layers.append(alt.Chart(pd.DataFrame({'e': y_major})).mark_rule(**TICK).encode(
    y=alt.Y('e:Q', scale=YS, axis=None), x=alt.value(0), x2=alt.value(24)))
layers.append(alt.Chart(pd.DataFrame({'e': y_minor})).mark_rule(**TICK).encode(
    y=alt.Y('e:Q', scale=YS, axis=None), x=alt.value(0), x2=alt.value(15)))
layers.append(alt.Chart(pd.DataFrame({'v': vg_at_vinf})).mark_rule(**TICK).encode(
    x=alt.X('v:Q', scale=XS, axis=top_axis), y=alt.value(0), y2=alt.value(20)))

# labels inside the plot
BOLD = dict(font=SANS, fontSize=40, fontWeight='bold', align='center', baseline='middle')
layers.append(dtext(25.5, 173.8, 'a', font='Liberation Serif', fontSize=42, fontStyle='italic',
                    align='center', baseline='middle'))
layers.append(dtext(26.5, 173.8, '[AU]', font=SANS, fontSize=38, align='left', baseline='middle'))
layers.append(dtext(26.1, 162.4, '\u2192', font='DejaVu Sans', fontSize=46, color='#b81c22',
                    align='center', baseline='middle'))
layers.append(dtext(28.6, 162.0, '\u221e', font='DejaVu Sans', fontSize=40, color='#b81c22',
                    align='center', baseline='middle'))
layers.append(dtext(27.1, 152.3, '5.0', color='#2a8a2a', **BOLD))
layers.append(dtext(27.1, 141.3, '3.0', color='#22999c', **BOLD))
layers.append(dtext(27.1, 130.0, '2.0', color='#3be23b', **BOLD))
layers.append(dtext(27.5, 61.1, '1.0', color='black', **BOLD))
layers.append(dtext(27.5, 50.2, '0.8', color='black', **BOLD))
layers.append(dtext(27.4, 39.2, '0.6', color='black', **BOLD))
layers.append(dtext(39.6, 102.3, 'hyperbolic orbits', font='Lato', fontSize=44, color='#ff0000',
                    align='left', baseline='middle'))
NAME = dict(font=SANS, fontSize=44, color='black', align='center', baseline='middle')
layers.append(dtext(47.7, 75.0, 'LYR', **NAME))
layers.append(dtext(63.6, 50.5, 'PER', **NAME))
layers.append(dtext(71.8, 31.7, 'ORI', **NAME))
layers.append(dtext(76.3, 12.7, 'LEO', **NAME))

# axis titles
T44 = dict(font=SANS, fontSize=44, color='black', align='left', baseline='alphabetic')
layers.append(ptext('v', 611, -104, **T44))
layers.append(ptext('G', 634, -88, font=SANS, fontSize=30, align='left', baseline='alphabetic'))
layers.append(ptext('[kms', 665, -104, **T44))
layers.append(ptext('-1', 760, -128, font=SANS, fontSize=28, align='left', baseline='alphabetic'))
layers.append(ptext(']', 787, -104, **T44))

layers.append(ptext('v', 591, 1247, **T44))
layers.append(ptext('\u221e', 614, 1257, font=SANS, fontSize=28, align='left', baseline='alphabetic'))
layers.append(ptext('[kms', 650, 1247, **T44))
layers.append(ptext('-1', 746, 1224, font=SANS, fontSize=28, align='left', baseline='alphabetic'))
layers.append(ptext(']', 773, 1247, **T44))

layers.append(ptext('\u03b5', -118, 682, font=SANS, fontSize=44, angle=270, align='center', baseline='alphabetic'))
layers.append(ptext('A', -96, 657, font=SANS, fontSize=22, angle=270, align='center', baseline='alphabetic'))
layers.append(ptext('[deg]', -118, 590, font=SANS, fontSize=44, angle=270, align='center', baseline='alphabetic'))

# notes
layers.append(ptext('4581 Photographic meteors, IAU MDC', -118, 1247, font='Lato', fontSize=39,
                    color='black', align='left', baseline='alphabetic'))
layers.append(ptext('Hajdukova, Sterken, Wiegert, 2018', 1914, 1247, font='Lato', fontSize=39,
                    color='black', align='right', baseline='alphabetic'))

# box
layers.append(alt.Chart(pd.DataFrame({'t': [0]})).mark_rect(fill='white', stroke='#1f3a6e', strokeWidth=2.2).encode(
    x=alt.value(1044), x2=alt.value(1927), y=alt.value(104), y2=alt.value(238)))
SER = dict(font='Liberation Serif', fontSize=48, color='black', align='left', baseline='alphabetic')
SUB = dict(font='Liberation Serif', fontSize=30, color='black', align='left', baseline='alphabetic')
layers.append(ptext('wide range', 1064, 160, **SER))
layers.append(ptext('v', 1064, 216, **SER))
layers.append(ptext('G', 1086, 229, **SUB))
layers.append(ptext('11 - 72 km/s', 1120, 216, **SER))
layers.append(ptext('\u2013', 1421, 214, font='Liberation Serif', fontSize=48, color='#1f3a6e',
                    align='left', baseline='alphabetic'))
layers.append(ptext('>', 1443, 216, **SER))
layers.append(ptext('narrow range', 1532, 160, **SER))
layers.append(ptext('v', 1532, 216, **SER))
layers.append(ptext('H', 1554, 229, **SUB))
layers.append(ptext('36  - 42 km/s', 1588, 216, **SER))

chart = alt.layer(*layers).resolve_axis(x='independent', y='independent').properties(
    width=W, height=H,
    padding={'left': 165, 'top': 161, 'right': 404, 'bottom': 133},
    autosize=alt.AutoSizeParams(type='none'),
    background='white',
).configure_view(stroke='black', strokeWidth=3)

chart.save('out.html', embed_options={'renderer': 'svg', 'actions': False})
